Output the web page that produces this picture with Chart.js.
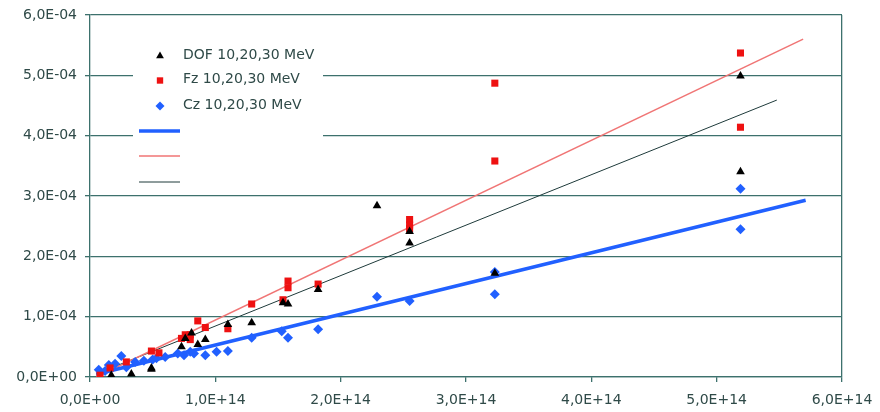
<!DOCTYPE html>
<html>
<head>
<meta charset="utf-8">
<script src="https://cdn.jsdelivr.net/npm/chart.js@4.4.0/dist/chart.umd.min.js"></script>
<style>
html, body { margin: 0; padding: 0; background: #fff; }
</style>
</head>
<body>
<canvas id="chart" width="880" height="412"></canvas>
<script>
var seriesNames = ["DOF 10,20,30 MeV", "Fz 10,20,30 MeV", "Cz 10,20,30 MeV"]

var dofX = [0.17e14, 0.33e14, 0.49e14, 0.49e14, 0.73e14, 0.76e14, 0.81e14, 0.86e14, 0.92e14, 1.10e14, 1.29e14, 1.54e14, 1.58e14, 1.82e14, 2.29e14, 2.55e14, 2.55e14, 3.23e14, 5.19e14, 5.19e14]
var dofY = [0.03e-4, 0.05e-4, 0.13e-4, 0.15e-4, 0.50e-4, 0.64e-4, 0.73e-4, 0.54e-4, 0.62e-4, 0.87e-4, 0.90e-4, 1.23e-4, 1.21e-4, 1.45e-4, 2.84e-4, 2.41e-4, 2.22e-4, 1.72e-4, 4.99e-4, 3.40e-4]

var fzX = [0.08e14, 0.16e14, 0.29e14, 0.49e14, 0.55e14, 0.73e14, 0.76e14, 0.80e14, 0.80e14, 0.86e14, 0.92e14, 1.10e14, 1.29e14, 1.54e14, 1.58e14, 1.58e14, 1.82e14, 2.55e14, 2.55e14, 2.55e14, 3.23e14, 3.23e14, 5.19e14, 5.19e14]
var fzY = [0.03e-4, 0.15e-4, 0.25e-4, 0.43e-4, 0.40e-4, 0.64e-4, 0.70e-4, 0.70e-4, 0.62e-4, 0.93e-4, 0.82e-4, 0.80e-4, 1.21e-4, 1.28e-4, 1.59e-4, 1.48e-4, 1.54e-4, 2.61e-4, 2.52e-4, 2.46e-4, 4.87e-4, 3.58e-4, 5.37e-4, 4.14e-4]

var czX = [0.07e14, 0.12e14, 0.15e14, 0.20e14, 0.25e14, 0.29e14, 0.36e14, 0.43e14, 0.50e14, 0.53e14, 0.60e14, 0.70e14, 0.75e14, 0.80e14, 0.83e14, 0.92e14, 1.01e14, 1.10e14, 1.29e14, 1.53e14, 1.58e14, 1.82e14, 2.29e14, 2.55e14, 3.23e14, 3.23e14, 5.19e14, 5.19e14]
var czY = [0.12e-4, 0.10e-4, 0.20e-4, 0.22e-4, 0.35e-4, 0.16e-4, 0.25e-4, 0.27e-4, 0.29e-4, 0.31e-4, 0.33e-4, 0.39e-4, 0.36e-4, 0.42e-4, 0.39e-4, 0.36e-4, 0.42e-4, 0.43e-4, 0.65e-4, 0.76e-4, 0.65e-4, 0.79e-4, 1.33e-4, 1.26e-4, 1.74e-4, 1.37e-4, 3.12e-4, 2.45e-4]

// linear trend lines, start and end
var trendCzX = [0.05e14, 5.71e14]
var trendCzY = [0.045e-4, 2.93e-4]
var trendFzX = [0.05e14, 5.69e14]
var trendFzY = [0.00e-4, 5.60e-4]
var trendDofX = [0.05e14, 5.48e14]
var trendDofY = [0.05e-4, 4.59e-4]

var xTicks = [0, 1e14, 2e14, 3e14, 4e14, 5e14, 6e14]
var yTicks = [0, 1e-4, 2e-4, 3e-4, 4e-4, 5e-4, 6e-4]

var textColor = "#2f4a48"
var gridColor = "#3d716d"

function pts(xs, ys) {
    return xs.map(function (x, i) { return { x: x, y: ys[i] } })
}

function sci(v) {
    var s = Number(v).toExponential(1).split("e")
    var exp = parseInt(s[1], 10)
    return s[0].replace(".", ",") + "E" + (exp < 0 ? "-" : "+") + ("0" + Math.abs(exp)).slice(-2)
}

function noPad(scale) {
    scale.paddingLeft = 0
    scale.paddingRight = 0
    scale.paddingTop = 0
    scale.paddingBottom = 0
}

var legendBox = {
    id: "legendBox",
    beforeDatasetsDraw: function (chart) {
        var ctx = chart.ctx
        var ds = chart.data.datasets
        ctx.save()
        ctx.fillStyle = "#fff"
        ctx.fillRect(133, 37, 190, 155)
        var rows = [56, 80.5, 106]
        for (var i = 0; i < 3; i++) {
            ctx.fillStyle = ds[i].backgroundColor
            Chart.helpers.drawPoint(ctx, { pointStyle: ds[i].pointStyle, radius: ds[i].pointRadius - 0.5, borderWidth: 0, rotation: 0 }, 160, rows[i])
            ctx.fillStyle = textColor
            ctx.font = "14px 'DejaVu Sans'"
            ctx.textBaseline = "middle"
            ctx.fillText(ds[i].label, 183, rows[i] - 1)
        }
        var lines = [131, 156, 182]
        for (var j = 0; j < 3; j++) {
            ctx.strokeStyle = ds[3 + j].borderColor
            ctx.lineWidth = ds[3 + j].borderWidth
            ctx.beginPath()
            ctx.moveTo(139, lines[j])
            ctx.lineTo(180, lines[j])
            ctx.stroke()
        }
        ctx.restore()
    }
}

new Chart("chart", {
    type: "scatter",
    data: {
        datasets: [
            { label: seriesNames[0], data: pts(dofX, dofY), pointStyle: "triangle", pointRadius: 5, backgroundColor: "#000", borderWidth: 0, order: 1 },
            { label: seriesNames[1], data: pts(fzX, fzY), pointStyle: "rect", pointRadius: 5, backgroundColor: "#ee1111", borderWidth: 0, order: 2 },
            { label: seriesNames[2], data: pts(czX, czY), pointStyle: "rectRot", pointRadius: 5, backgroundColor: "#2160ff", borderWidth: 0, order: 3 },
            { label: "", type: "line", data: pts(trendCzX, trendCzY), borderColor: "#2160ff", borderWidth: 3.5, pointRadius: 0, order: 4 },
            { label: "", type: "line", data: pts(trendFzX, trendFzY), borderColor: "#f07575", borderWidth: 1.5, pointRadius: 0, order: 5 },
            { label: "", type: "line", data: pts(trendDofX, trendDofY), borderColor: "#1e3a3a", borderWidth: 1, pointRadius: 0, order: 6 }
        ]
    },
    options: {
        responsive: false,
        animation: false,
        layout: { padding: { left: 0, top: 15, right: 38, bottom: 0 } },
        plugins: { legend: { display: false }, tooltip: { enabled: false } },
        scales: {
            x: {
                type: "linear",
                min: 0,
                max: 6e14,
                afterBuildTicks: function (s) { s.ticks = xTicks.map(function (v) { return { value: v } }) },
                afterFit: function (s) { s.height = 35; noPad(s) },
                grid: {
                    color: function (c) { return c.tick && c.tick.value === 6e14 ? gridColor : "rgba(0,0,0,0)" },
                    tickColor: gridColor,
                    tickLength: 5,
                    lineWidth: 1.3
                },
                border: { color: gridColor, width: 1.3 },
                ticks: { color: textColor, font: { family: "DejaVu Sans", size: 14 }, padding: 10, maxRotation: 0, callback: sci }
            },
            y: {
                type: "linear",
                min: 0,
                max: 6e-4,
                afterBuildTicks: function (s) { s.ticks = yTicks.map(function (v) { return { value: v } }) },
                afterFit: function (s) { s.width = 90; noPad(s) },
                grid: { color: gridColor, tickLength: 5, lineWidth: 1.3 },
                border: { color: gridColor, width: 1.3 },
                ticks: { color: textColor, font: { family: "DejaVu Sans", size: 14 }, padding: 8, callback: sci }
            }
        }
    },
    plugins: [legendBox]
});
</script>
</body>
</html>
